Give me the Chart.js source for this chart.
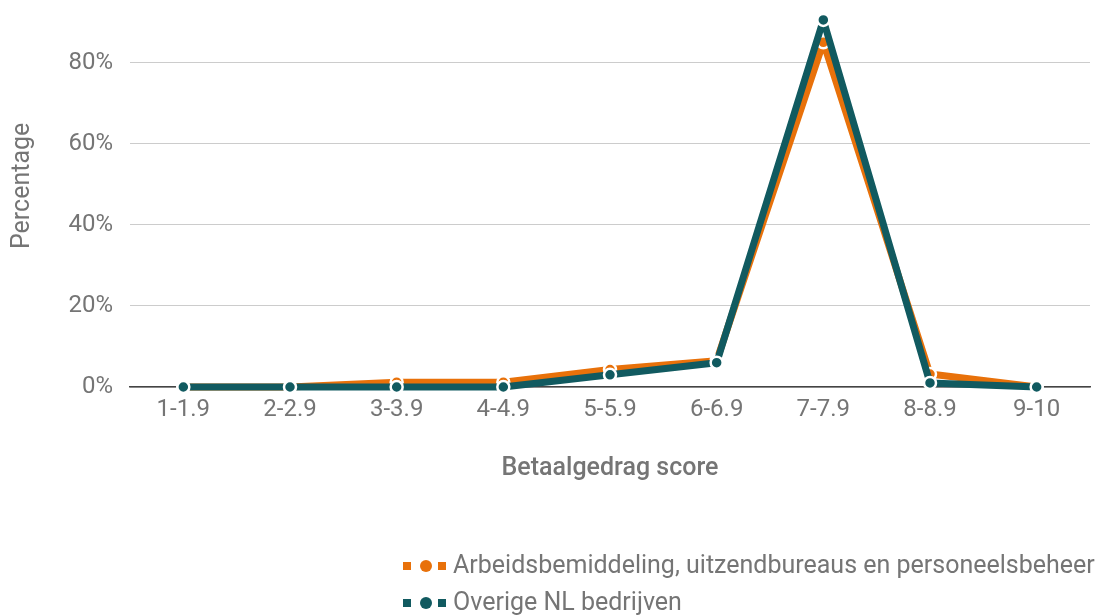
<!DOCTYPE html>
<html>
<head>
<meta charset="utf-8">
<script src="https://cdn.jsdelivr.net/npm/chart.js@4.4.1/dist/chart.umd.min.js"></script>
<style>
  html, body { margin: 0; padding: 0; background: #fff; }
  #wrap { width: 1101px; height: 616px; position: relative; }
</style>
</head>
<body>
<div id="wrap"><canvas id="c" width="1101" height="616"></canvas></div>
<script>
const categories = ['1-1.9', '2-2.9', '3-3.9', '4-4.9', '5-5.9', '6-6.9', '7-7.9', '8-8.9', '9-10'];
const seriesNames = ['Arbeidsbemiddeling, uitzendbureaus en personeelsbeheer', 'Overige NL bedrijven'];
const arbeidsValues = [0, 0, 1.2, 1.2, 4.3, 6.5, 85, 3.2, 0];
const overigeValues = [0, 0, 0, 0, 3, 6, 90.5, 1, 0];
const yTickValues = [0, 20, 40, 60, 80];
const xTitle = 'Betaalgedrag score';
const yTitle = '      Percentage';

const ORANGE = '#e8710a';
const TEAL = '#115a60';
const TEXT = '#757575';

const customLegend = {
  id: 'customLegend',
  afterDraw(chart) {
    const ctx = chart.ctx;
    const rows = [566, 603];
    ctx.save();
    chart.data.datasets.forEach((ds, i) => {
      const y = rows[i];
      const x0 = 403;
      ctx.fillStyle = ds.borderColor;
      ctx.fillRect(x0, y - 4, 8, 8);
      ctx.fillRect(x0 + 35, y - 4, 8, 8);
      ctx.beginPath();
      ctx.arc(x0 + 23, y, 6, 0, Math.PI * 2);
      ctx.fill();
      ctx.fillStyle = TEXT;
      ctx.font = '25px Roboto';
      ctx.textBaseline = 'middle';
      ctx.textAlign = 'left';
      ctx.fillText(ds.label, 453, y + 1);
    });
    ctx.restore();
  }
};

new Chart(document.getElementById('c'), {
  type: 'line',
  data: {
    labels: categories,
    datasets: [
      {
        label: seriesNames[0],
        data: arbeidsValues,
        borderColor: ORANGE,
        backgroundColor: ORANGE,
        borderWidth: 7,
        borderJoinStyle: 'round',
        pointRadius: 6,
        pointBorderWidth: 2.5,
        pointBorderColor: '#fff',
        pointBackgroundColor: ORANGE,
        tension: 0,
        clip: false,
        order: 2
      },
      {
        label: seriesNames[1],
        data: overigeValues,
        borderColor: TEAL,
        backgroundColor: TEAL,
        borderWidth: 7,
        borderJoinStyle: 'round',
        pointRadius: 6,
        pointBorderWidth: 2.5,
        pointBorderColor: '#fff',
        pointBackgroundColor: TEAL,
        tension: 0,
        clip: false,
        order: 1
      }
    ]
  },
  options: {
    responsive: false,
    animation: false,
    layout: { padding: { top: 22, right: 11, left: 0, bottom: 129 } },
    plugins: {
      legend: { display: false },
      tooltip: { enabled: false }
    },
    scales: {
      x: {
        offset: true,
        grid: { display: false },
        border: { display: true, color: '#444', width: 1.5 },
        ticks: { color: TEXT, font: { family: 'Roboto', size: 24 }, padding: 1 },
        title: {
          display: true, text: xTitle, color: TEXT,
          font: { family: 'Roboto', size: 25, weight: '500' },
          padding: { top: 0, bottom: 3 }
        },
        afterFit(scale) { scale.height = 100; }
      },
      y: {
        min: 0,
        max: 90,
        ticks: {
          stepSize: 20,
          color: TEXT,
          font: { family: 'Roboto', size: 24 },
          padding: 17,
          callback: v => v + '%'
        },
        afterBuildTicks(axis) {
          axis.ticks = yTickValues.map(v => ({ value: v }));
        },
        grid: { color: '#cccccc', lineWidth: 1, drawTicks: false },
        border: { display: false },
        title: {
          display: true, text: yTitle, color: TEXT,
          font: { family: 'Roboto', size: 25 },
          padding: { top: 8, bottom: 0 }
        },
        afterFit(scale) {
          scale.width = 130;
          scale.paddingTop = 0;
          scale.paddingBottom = 0;
        }
      }
    }
  },
  plugins: [customLegend]
});
</script>
</body>
</html>
